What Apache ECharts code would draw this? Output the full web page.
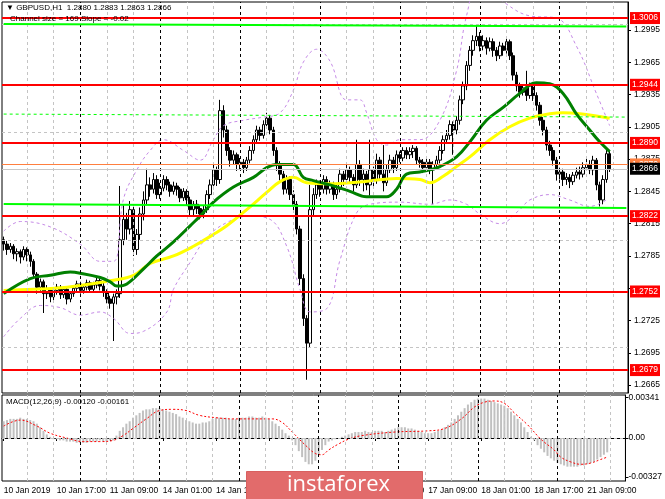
<!DOCTYPE html>
<html><head><meta charset="utf-8">
<script src="https://cdn.jsdelivr.net/npm/echarts@6/dist/echarts.min.js"></script>
<style>html,body{margin:0;padding:0;background:#fff}#c{width:665px;height:499px}</style>
</head><body><div id="c"></div><script>
// ---------- data ----------
const days = ['10 Jan','11 Jan','14 Jan','15 Jan','16 Jan','17 Jan','18 Jan','21 Jan'];
const firstLabel = '10 Jan 2019';
const titleText = '\u25BC GBPUSD,H1  1.2880 1.2883 1.2863 1.2866';
const channelText = 'Channel size = 169 Slope = -0.02';
const macdText = 'MACD(12,26,9) -0.00120 -0.00161';

// [open, close, low, high]
const ohlc = [
[1.2800,1.2796,1.2790,1.2803],[1.2796,1.2791,1.2786,1.2799],[1.2791,1.2794,1.2788,1.2797],[1.2794,1.2787,1.2782,1.2796],
[1.2787,1.2789,1.2780,1.2792],[1.2789,1.2784,1.2778,1.2791],[1.2784,1.2791,1.2781,1.2794],[1.2791,1.2786,1.2780,1.2793],
[1.2786,1.2780,1.2775,1.2789],[1.2780,1.2768,1.2764,1.2782],[1.2768,1.2756,1.2750,1.2770],[1.2756,1.2761,1.2752,1.2764],
[1.2761,1.2750,1.2732,1.2763],[1.2750,1.2754,1.2745,1.2758],[1.2754,1.2747,1.2742,1.2756],[1.2747,1.2753,1.2744,1.2756],
[1.2753,1.2756,1.2749,1.2759],[1.2756,1.2749,1.2745,1.2758],[1.2749,1.2754,1.2746,1.2757],[1.2754,1.2745,1.2740,1.2756],
[1.2745,1.2750,1.2742,1.2752],[1.2750,1.2755,1.2747,1.2757],[1.2755,1.2759,1.2752,1.2762],[1.2759,1.2753,1.2750,1.2761],
[1.2753,1.2756,1.2750,1.2758],[1.2756,1.2760,1.2753,1.2763],[1.2760,1.2754,1.2751,1.2762],[1.2754,1.2758,1.2752,1.2761],
[1.2758,1.2762,1.2755,1.2766],[1.2762,1.2757,1.2753,1.2765],[1.2757,1.2751,1.2747,1.2760],[1.2751,1.2745,1.2741,1.2754],
[1.2745,1.2741,1.2736,1.2748],[1.2741,1.2747,1.2706,1.2750],[1.2747,1.2750,1.2740,1.2754],[1.2750,1.2800,1.2746,1.2850],
[1.2800,1.2819,1.2795,1.2832],[1.2819,1.2810,1.2800,1.2825],[1.2810,1.2828,1.2805,1.2836],[1.2828,1.2791,1.2785,1.2832],
[1.2791,1.2805,1.2786,1.2810],[1.2805,1.2824,1.2800,1.2830],[1.2824,1.2837,1.2818,1.2845],[1.2837,1.2851,1.2833,1.2866],
[1.2851,1.2847,1.2840,1.2858],[1.2847,1.2856,1.2843,1.2862],[1.2856,1.2842,1.2838,1.2860],[1.2842,1.2848,1.2838,1.2853],
[1.2848,1.2856,1.2845,1.2860],[1.2856,1.2851,1.2846,1.2859],[1.2851,1.2845,1.2840,1.2854],[1.2845,1.2850,1.2842,1.2854],
[1.2850,1.2847,1.2841,1.2853],[1.2847,1.2839,1.2835,1.2849],[1.2839,1.2845,1.2836,1.2848],[1.2845,1.2837,1.2832,1.2847],
[1.2837,1.2828,1.2822,1.2840],[1.2828,1.2833,1.2823,1.2836],[1.2833,1.2829,1.2824,1.2837],[1.2829,1.2824,1.2819,1.2832],
[1.2824,1.2828,1.2820,1.2832],[1.2828,1.2842,1.2825,1.2846],[1.2842,1.2851,1.2838,1.2856],[1.2851,1.2865,1.2847,1.2870],
[1.2865,1.2856,1.2850,1.2868],[1.2856,1.2920,1.2852,1.2930],[1.2920,1.2902,1.2895,1.2925],[1.2902,1.2883,1.2878,1.2906],
[1.2883,1.2874,1.2868,1.2886],[1.2874,1.2879,1.2870,1.2883],[1.2879,1.2870,1.2864,1.2881],[1.2870,1.2872,1.2865,1.2876],
[1.2872,1.2867,1.2862,1.2875],[1.2867,1.2874,1.2864,1.2877],[1.2874,1.2883,1.2871,1.2887],[1.2883,1.2893,1.2880,1.2897],
[1.2893,1.2902,1.2889,1.2906],[1.2902,1.2897,1.2892,1.2905],[1.2897,1.2907,1.2894,1.2911],[1.2907,1.2913,1.2903,1.2918],
[1.2913,1.2902,1.2898,1.2916],[1.2902,1.2883,1.2878,1.2905],[1.2883,1.2870,1.2864,1.2886],[1.2870,1.2861,1.2855,1.2873],
[1.2861,1.2847,1.2842,1.2864],[1.2847,1.2856,1.2843,1.2860],[1.2856,1.2842,1.2837,1.2859],[1.2842,1.2833,1.2827,1.2846],
[1.2833,1.2810,1.2805,1.2836],[1.2810,1.2764,1.2758,1.2813],[1.2764,1.2727,1.2720,1.2768],[1.2727,1.2704,1.2670,1.2730],
[1.2704,1.2828,1.2700,1.2851],[1.2828,1.2842,1.2823,1.2848],[1.2842,1.2851,1.2838,1.2856],[1.2851,1.2847,1.2840,1.2855],
[1.2847,1.2856,1.2843,1.2860],[1.2856,1.2847,1.2842,1.2859],[1.2847,1.2851,1.2843,1.2855],[1.2851,1.2842,1.2837,1.2854],
[1.2842,1.2847,1.2838,1.2852],[1.2847,1.2861,1.2844,1.2866],[1.2861,1.2856,1.2850,1.2864],[1.2856,1.2865,1.2852,1.2870],
[1.2865,1.2858,1.2852,1.2868],[1.2858,1.2851,1.2845,1.2861],[1.2851,1.2870,1.2848,1.2893],[1.2870,1.2856,1.2850,1.2874],
[1.2856,1.2861,1.2845,1.2866],[1.2861,1.2851,1.2846,1.2864],[1.2851,1.2865,1.2841,1.2893],[1.2865,1.2856,1.2850,1.2868],
[1.2856,1.2874,1.2852,1.2880],[1.2874,1.2861,1.2855,1.2877],[1.2861,1.2853,1.2845,1.2888],[1.2853,1.2865,1.2850,1.2870],
[1.2865,1.2874,1.2862,1.2879],[1.2874,1.2867,1.2862,1.2877],[1.2867,1.2879,1.2864,1.2883],[1.2879,1.2876,1.2872,1.2882],
[1.2876,1.2883,1.2873,1.2886],[1.2883,1.2879,1.2875,1.2886],[1.2879,1.2882,1.2875,1.2886],[1.2882,1.2885,1.2876,1.2888],
[1.2885,1.2874,1.2870,1.2887],[1.2874,1.2872,1.2867,1.2877],[1.2872,1.2867,1.2862,1.2875],[1.2867,1.2872,1.2864,1.2875],
[1.2872,1.2865,1.2861,1.2875],[1.2865,1.2870,1.2833,1.2873],[1.2870,1.2874,1.2866,1.2878],[1.2874,1.2883,1.2871,1.2887],
[1.2883,1.2893,1.2880,1.2897],[1.2893,1.2897,1.2889,1.2902],[1.2897,1.2907,1.2893,1.2911],[1.2907,1.2902,1.2879,1.2910],
[1.2902,1.2911,1.2898,1.2915],[1.2911,1.2930,1.2907,1.2934],[1.2930,1.2943,1.2926,1.2947],[1.2943,1.2962,1.2939,1.2966],
[1.2962,1.2976,1.2957,1.2980],[1.2976,1.2985,1.2971,1.2990],[1.2985,1.2989,1.2980,1.2999],[1.2989,1.2980,1.2975,1.2993],
[1.2980,1.2985,1.2976,1.2990],[1.2985,1.2978,1.2972,1.2988],[1.2978,1.2984,1.2975,1.2988],[1.2984,1.2976,1.2970,1.2987],
[1.2976,1.2971,1.2966,1.2979],[1.2971,1.2980,1.2968,1.2984],[1.2980,1.2976,1.2971,1.2983],[1.2976,1.2984,1.2973,1.2987],
[1.2984,1.2971,1.2967,1.2986],[1.2971,1.2953,1.2948,1.2974],[1.2953,1.2943,1.2938,1.2956],[1.2943,1.2937,1.2932,1.2946],
[1.2937,1.2941,1.2934,1.2944],[1.2941,1.2934,1.2929,1.2957],[1.2934,1.2943,1.2931,1.2946],[1.2943,1.2934,1.2929,1.2946],
[1.2934,1.2925,1.2920,1.2937],[1.2925,1.2911,1.2906,1.2928],[1.2911,1.2902,1.2897,1.2914],[1.2902,1.2888,1.2883,1.2905],
[1.2888,1.2883,1.2878,1.2892],[1.2883,1.2874,1.2869,1.2886],[1.2874,1.2861,1.2855,1.2877],[1.2861,1.2863,1.2856,1.2867],
[1.2863,1.2856,1.2850,1.2866],[1.2856,1.2858,1.2851,1.2862],[1.2858,1.2854,1.2848,1.2861],[1.2854,1.2860,1.2851,1.2863],
[1.2860,1.2863,1.2857,1.2867],[1.2863,1.2861,1.2856,1.2868],[1.2861,1.2867,1.2858,1.2872],[1.2867,1.2870,1.2864,1.2876],
[1.2870,1.2865,1.2861,1.2874],[1.2865,1.2874,1.2860,1.2878],[1.2874,1.2851,1.2846,1.2876],[1.2851,1.2837,1.2831,1.2854],
[1.2837,1.2856,1.2833,1.2860],[1.2856,1.2880,1.2853,1.2885],[1.2880,1.2866,1.2863,1.2883]
];

// moving averages / bands as [barIndex, price]
const maGreen = [[0,1.2750],[8,1.2764],[14,1.2767],[20,1.2770],[23,1.2769],[29,1.2765],[32,1.2761],[34,1.2757],[37,1.2759],
[42,1.2773],[46,1.2785],[51,1.2798],[56,1.2813],[59,1.2822],[63,1.2835],[69,1.2849],[75,1.2858],[79,1.2867],[82,1.2870],
[87,1.2870],[90,1.2858],[93,1.2855],[98,1.2851],[104,1.2845],[109,1.2840],[115,1.2840],[118,1.2847],[121,1.2861],[125,1.2863],
[128,1.2865],[131,1.2868],[136,1.2877],[140,1.2891],[145,1.2911],[150,1.2923],[155,1.2936],[160,1.2946],[164,1.2945],
[168,1.2936],[172,1.2917],[176,1.2902],[179,1.2891],[182,1.2882]];
const maYellow = [[0,1.2753],[9,1.2754],[19,1.2756],[26,1.2759],[32,1.2762],[39,1.2767],[44,1.2778],[51,1.2785],[57,1.2794],
[63,1.2805],[67,1.2813],[73,1.2828],[79,1.2844],[83,1.2854],[87,1.2858],[91,1.2853],[98,1.2852],[108,1.2854],[118,1.2857],
[125,1.2856],[128,1.2853],[132,1.2859],[136,1.2868],[140,1.2877],[146,1.2893],[152,1.2905],[158,1.2913],[164,1.2917],
[168,1.2918],[173,1.2917],[182,1.2913]];
const bandUpper = [[0,1.2808],[5,1.2817],[14,1.2812],[23,1.2796],[29,1.2780],[33,1.2780],[36,1.2838],[40,1.2865],[44,1.2883],
[48,1.2893],[54,1.2883],[59,1.2874],[63,1.2893],[66,1.2906],[72,1.2911],[78,1.2914],[83,1.2918],[87,1.2939],[90,1.2965],
[94,1.2977],[98,1.2966],[103,1.2930],[107,1.2930],[109,1.2918],[112,1.2893],[115,1.2888],[119,1.2893],[125,1.2893],
[131,1.2911],[136,1.2957],[139,1.3008],[143,1.3040],[151,1.3019],[158,1.3008],[166,1.3006],[172,1.2980],[178,1.2936],[182,1.2906]];
const bandLower = [[0,1.2710],[5,1.2727],[11,1.2739],[17,1.2737],[23,1.2730],[29,1.2733],[33,1.2727],[38,1.2713],[42,1.2715],
[49,1.2733],[51,1.2754],[56,1.2779],[61,1.2802],[67,1.2816],[74,1.2822],[80,1.2819],[85,1.2794],[89,1.2754],[92,1.2733],
[97,1.2736],[101,1.2781],[106,1.2825],[110,1.2833],[119,1.2835],[128,1.2833],[134,1.2837],[139,1.2833],[143,1.2824],
[149,1.2815],[155,1.2828],[158,1.2837],[164,1.2842],[170,1.2837],[176,1.2831],[181,1.2837]];

// regression channel [start, end]
const channelTop = [1.30004, 1.29981];
const channelMid = [1.29168, 1.29140];
const channelBot = [1.28332, 1.28295];

const levels = [1.3006, 1.2944, 1.2890, 1.2822, 1.2752, 1.2679];
const bidPrice = 1.2866;
const orangeLevel = 1.2870;

const yTicks = [1.2665,1.2695,1.2725,1.2755,1.2785,1.2815,1.2845,1.2875,1.2905,1.2935,1.2965,1.2995];
const yTickLabels = [1.2665,1.2695,1.2725,1.2785,1.2815,1.2845,1.2875,1.2905,1.2935,1.2965,1.2995];
const macdTicks = [-0.00327, 0, 0.00341];

const macdHist = [
0.0014,0.0015,0.0016,0.0016,0.0016,0.0017,0.0016,0.0016,
0.0015,0.0014,0.0012,0.0009,0.0006,
0.0003,0.0001,-0.0001,-0.0001,
-0.0002,-0.0002,-0.0003,-0.0003,-0.0003,-0.0004,
-0.0004,-0.0004,-0.0004,-0.0003,-0.0003,-0.0003,-0.0002,-0.0003,
-0.0003,-0.0002,-0.0002,
0.0002,0.0006,0.0009,
0.0012,0.0014,0.0017,0.0019,
0.0021,0.0023,0.0024,0.0024,0.0025,0.0025,0.0025,
0.0024,0.0023,0.0022,0.0021,0.0020,
0.0018,0.0017,0.0015,0.0014,0.0013,0.0012,
0.0012,0.0013,0.0013,0.0014,
0.0016,0.0017,0.0017,0.0017,
0.0017,0.0016,0.0016,0.0016,0.0017,0.0017,0.0017,0.0018,0.0018,0.0017,0.0017,0.0018,
0.0017,0.0016,0.0014,0.0012,0.0010,
0.0007,0.0004,0.0002,
-0.0002,-0.0006,-0.0011,
-0.0016,-0.0020,-0.0022,-0.0022,-0.0019,-0.0014,
-0.0010,-0.0006,-0.0003,-0.0002,-0.0001,0.0000,
0.0001,0.0002,0.0003,0.0004,0.0005,
0.0005,0.0005,0.0006,0.0005,0.0005,0.0006,0.0006,0.0006,0.0005,0.0006,0.0007,
0.0008,0.0009,0.0009,0.0009,0.0008,0.0008,
0.0007,0.0006,0.0005,0.0004,0.0004,
0.0004,0.0005,0.0006,0.0007,
0.0009,0.0011,0.0013,0.0016,0.0019,0.0022,0.0025,0.0028,0.0030,0.0032,
0.0033,0.0033,0.0033,
0.0032,0.0031,0.0030,0.0029,0.0028,0.0027,0.0025,
0.0022,0.0019,0.0016,0.0013,0.0009,0.0005,
0.0001,-0.0002,
-0.0006,-0.0009,-0.0012,-0.0015,-0.0017,-0.0019,-0.0021,
-0.0022,-0.0023,-0.0024,-0.0024,-0.0024,-0.0024,-0.0023,-0.0023,-0.0022,
-0.0021,-0.0020,-0.0018,-0.0016,-0.0014,-0.0012
];
const macdSignal = [[0,0.0010],[5,0.0015],[10,0.0010],[14,0.0004],[19,0.0000],[24,-0.0003],[29,-0.0003],[33,-0.0002],
[36,0.0002],[39,0.0008],[43,0.0016],[47,0.0023],[51,0.0024],[55,0.0023],[59,0.0019],[64,0.0017],[69,0.0016],[75,0.0016],
[81,0.0016],[84,0.0013],[87,0.0005],[91,-0.0006],[94,-0.0013],[96,-0.0014],[98,-0.0010],[101,-0.0005],[104,-0.0001],
[108,0.0002],[118,0.0005],[128,0.0006],[133,0.0008],[138,0.0016],[142,0.0026],[145,0.0030],[148,0.0031],[151,0.0029],
[154,0.0021],[158,0.0011],[162,-0.0001],[166,-0.0010],[168,-0.0016],[171,-0.0020],[174,-0.0022],[177,-0.0021],
[180,-0.0018],[182,-0.0016]];

// ---------- build ----------
const categories = [];
days.forEach(d => { for (let h = 0; h < 24; h++) categories.push(d + ' ' + String(h).padStart(2,'0') + ':00'); });
const cats = categories.slice(1, 189);

const FONT = 'Liberation Sans';
const lightGrid = {color:'#c4c4c4', type:[3,3], width:1};
const darkGrid = {color:'#000000', type:[3,3], width:1};
const vLines = [];
for (let k = 7; k < cats.length; k += 8) {
  vLines.push({xAxis: cats[k], lineStyle: (k % 24 === 23) ? darkGrid : lightGrid});
}
const hLines = yTicks.map(v => ({yAxis: v, lineStyle: lightGrid}));
const lastIdx = cats.length - 1;

function lvlLabel(bg, fg) {
  return {show:true, position:'end', distance:2, formatter: p => Number(p.value).toFixed(4),
    color: fg, backgroundColor: bg, padding:[2,2,1,2], fontSize:8.5, fontFamily: FONT};
}
const noSym = ['none','none'];

const option = {
  animation: false,
  backgroundColor: '#ffffff',
  textStyle: {fontFamily: FONT},
  grid: [
    {left:2, right:37, top:2, height:391, show:true, borderColor:'#000', borderWidth:1, backgroundColor:'#fff'},
    {left:2, right:37, top:395, height:86, show:true, borderColor:'#000', borderWidth:1, backgroundColor:'#fff'}
  ],
  xAxis: [
    {type:'category', gridIndex:0, data:cats, boundaryGap:true, axisLine:{show:false}, axisTick:{show:false},
     axisLabel:{show:false}, splitLine:{show:false}},
    {type:'category', gridIndex:1, data:cats, boundaryGap:true,
     axisLine:{show:true, lineStyle:{color:'#000'}},
     axisTick:{show:true, alignWithLabel:true, interval:(i)=> i % 16 === 0, length:3, lineStyle:{color:'#000'}},
     axisLabel:{show:true, interval:(i)=> i % 16 === 0, formatter:(v,i)=> i === 0 ? firstLabel : v,
       align:'left', color:'#000', fontSize:8.5, margin:5, fontFamily:FONT},
     splitLine:{show:false}}
  ],
  yAxis: [
    {type:'value', gridIndex:0, position:'right', min:1.26577, max:1.30209,
     axisLine:{show:true, lineStyle:{color:'#000'}},
     axisTick:{show:true, customValues:yTicks, length:3, lineStyle:{color:'#000'}},
     axisLabel:{show:true, customValues:yTickLabels, formatter:v=>Number(v).toFixed(4), color:'#000', fontSize:8.5, margin:6, fontFamily:FONT},
     splitLine:{show:false}},
    {type:'value', gridIndex:1, position:'right', min:-0.0036, max:0.0036,
     axisLine:{show:true, lineStyle:{color:'#000'}},
     axisTick:{show:true, customValues:macdTicks, length:3, lineStyle:{color:'#000'}},
     axisLabel:{show:true, customValues:macdTicks, formatter:v=> v === 0 ? '0.00' : Number(v).toFixed(5), color:'#000', fontSize:8.5, margin:3, fontFamily:FONT},
     splitLine:{show:false}}
  ],
  series: [
    {type:'line', name:'grid', xAxisIndex:0, yAxisIndex:0, data:[], z:1, silent:true,
     markLine:{silent:true, symbol:noSym, animation:false, label:{show:false}, data: vLines.concat(hLines)}},
    {type:'line', name:'grid2', xAxisIndex:1, yAxisIndex:1, data:[], z:1, silent:true,
     markLine:{silent:true, symbol:noSym, animation:false, label:{show:false},
       data: vLines.concat([{yAxis:0, lineStyle:lightGrid}])}},
    {type:'candlestick', name:'GBPUSD', xAxisIndex:0, yAxisIndex:0, data:ohlc, barWidth:3, z:2,
     itemStyle:{color:'#ffffff', color0:'#000000', borderColor:'#000000', borderColor0:'#000000', borderWidth:1}},
    {type:'line', name:'bandU', data:bandUpper, smooth:0.4, symbol:'none', z:3,
     lineStyle:{color:'#c58ae6', width:1, type:[3,3]}},
    {type:'line', name:'bandL', data:bandLower, smooth:0.4, symbol:'none', z:3,
     lineStyle:{color:'#c58ae6', width:1, type:[3,3]}},
    {type:'line', name:'MA yellow', data:maYellow, smooth:0.4, symbol:'none', z:4,
     lineStyle:{color:'#ffff00', width:3}},
    {type:'line', name:'MA green', data:maGreen, smooth:0.4, symbol:'none', z:4,
     lineStyle:{color:'#008000', width:3}},
    {type:'line', name:'chTop', data:[[0,channelTop[0]],[lastIdx,channelTop[1]]], symbol:'none', z:5,
     lineStyle:{color:'#00ff00', width:2}},
    {type:'line', name:'chMid', data:[[0,channelMid[0]],[lastIdx,channelMid[1]]], symbol:'none', z:5,
     lineStyle:{color:'#00ff00', width:1, type:[3,3]}},
    {type:'line', name:'chBot', data:[[0,channelBot[0]],[lastIdx,channelBot[1]]], symbol:'none', z:5,
     lineStyle:{color:'#00ff00', width:2}},
    {type:'line', name:'levels', data:[], z:6,
     markLine:{silent:true, symbol:noSym, animation:false, precision:4,
       lineStyle:{color:'#ff0000', width:2, type:'solid'},
       label: lvlLabel('#ff0000', '#ffffff'),
       data: levels.map(v => ({yAxis:v}))}},
    {type:'line', name:'orange', data:[], z:6,
     markLine:{silent:true, symbol:noSym, animation:false, precision:4,
       lineStyle:{color:'#ff7f3f', width:1, type:'solid'},
       label: lvlLabel('#ff7f3f', '#ffffff'),
       data:[{yAxis:orangeLevel}]}},
    {type:'line', name:'bid', data:[], z:7,
     markLine:{silent:true, symbol:noSym, animation:false, precision:4,
       lineStyle:{color:'#c8c8c8', width:1, type:'solid'},
       label: lvlLabel('#000000', '#ffffff'),
       data:[{yAxis:bidPrice}]}},
    {type:'bar', name:'MACD', xAxisIndex:1, yAxisIndex:1, data:macdHist, barWidth:2, z:2,
     itemStyle:{color:'#c0c0c0'}},
    {type:'line', name:'Signal', xAxisIndex:1, yAxisIndex:1, data:macdSignal, smooth:0.4, symbol:'none', z:3,
     lineStyle:{color:'#ff0000', width:1, type:[2,2]}}
  ],
  graphic: [
    {type:'text', left:6, top:4, z:50, style:{text:titleText, fill:'#000', font:'8px "Liberation Sans"'}},
    {type:'text', left:10, top:15, z:50, style:{text:channelText, fill:'#000', font:'8px "Liberation Sans"'}},
    {type:'text', left:6, top:398, z:50, style:{text:macdText, fill:'#000', font:'8px "Liberation Sans"'}},
    {type:'rect', left:246, top:471, z:100, zlevel:1, shape:{x:0, y:0, width:176, height:32},
     style:{fill:'#e26b6b', stroke:'#d86060', lineWidth:1}},
    {type:'text', left:'center', top:474, z:101, zlevel:1,
     style:{text:'instaforex', x:0, y:0, fill:'#ffffff', font:'22px "Open Sans"'}}
  ]
};
option.graphic[4].left = 287;
const chart = echarts.init(document.getElementById('c'), null, {renderer:'canvas'});
chart.setOption(option);
</script></body></html>
